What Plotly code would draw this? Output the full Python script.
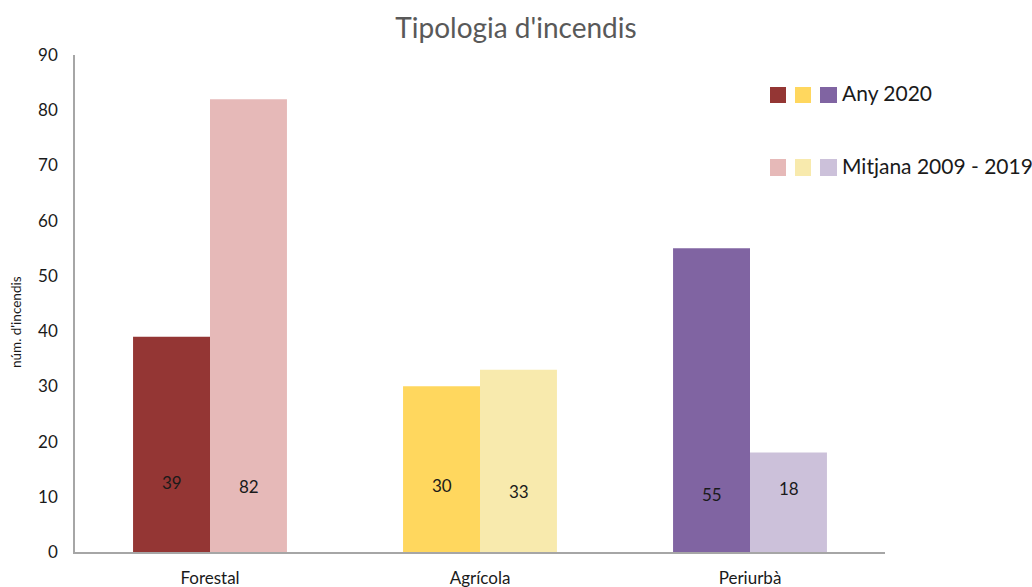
import plotly.graph_objects as go

categories = ["Forestal", "Agrícola", "Periurbà"]
any_2020 = [39, 30, 55]
mitjana = [82, 33, 18]
colors_2020 = ["#943634", "#FFD75E", "#8064A2"]
colors_mitjana = ["#E6B9B8", "#F8EAAD", "#CCC1DA"]
y_ticks = [0, 10, 20, 30, 40, 50, 60, 70, 80, 90]

FONT = "Lato, Liberation Sans, sans-serif"

W, H = 1032, 587
L, R, T, B = 75, 147, 55, 35
pw, ph = W - L - R, H - T - B
def px(x):
    return (x - L) / pw
def py(y):
    return (H - B - y) / ph

fig = go.Figure()
fig.add_trace(go.Bar(x=categories, y=any_2020, marker=dict(color=colors_2020, line=dict(width=0)),
                     name="Any 2020", showlegend=False, hoverinfo="y"))
fig.add_trace(go.Bar(x=categories, y=mitjana, marker=dict(color=colors_mitjana, line=dict(width=0)),
                     name="Mitjana 2009 - 2019", showlegend=False, hoverinfo="y"))

annotations = []
label_y_2020 = [12.5, 12, 10.5]
label_y_mit = [11.8, 11, 11.5]
for i, c in enumerate(categories):
    annotations.append(dict(x=c, y=label_y_2020[i], xref="x", yref="y", xshift=-38.5, text=str(any_2020[i]),
                            showarrow=False, font=dict(size=17, color="#1a1a1a", family=FONT)))
    annotations.append(dict(x=c, y=label_y_mit[i], xref="x", yref="y", xshift=38.5, text=str(mitjana[i]),
                            showarrow=False, font=dict(size=17, color="#1a1a1a", family=FONT)))

annotations.append(dict(x=px(840), y=py(93), xref="paper", yref="paper", text="Any 2020", showarrow=False,
                        xanchor="left", yanchor="middle", font=dict(size=21, color="#1a1a1a", family=FONT)))
annotations.append(dict(x=px(840), y=py(165), xref="paper", yref="paper", text="Mitjana 2009 - 2019", showarrow=False,
                        xanchor="left", yanchor="middle", font=dict(size=21, color="#1a1a1a", family=FONT)))
annotations.append(dict(x=px(16), y=py(322), xref="paper", yref="paper", text="núm. d'incendis", showarrow=False,
                        textangle=-90, xanchor="center", yanchor="middle",
                        font=dict(size=13.5, color="#1a1a1a", family=FONT)))

shapes = []
sq_x = [(770, 786), (795, 811), (820, 837)]
for j, (x0, x1) in enumerate(sq_x):
    shapes.append(dict(type="rect", xref="paper", yref="paper", x0=px(x0), x1=px(x1), y0=py(103), y1=py(87),
                       fillcolor=colors_2020[j], line=dict(width=0)))
    shapes.append(dict(type="rect", xref="paper", yref="paper", x0=px(x0), x1=px(x1), y0=py(176), y1=py(159),
                       fillcolor=colors_mitjana[j], line=dict(width=0)))

fig.update_layout(
    width=W, height=H,
    margin=dict(l=L, r=R, t=T, b=B, autoexpand=False),
    paper_bgcolor="white", plot_bgcolor="white",
    barmode="group", bargap=0.43, bargroupgap=0,
    title=dict(text="Tipologia d'incendis", x=0.5, xanchor="center", y=1 - 28 / H, yanchor="middle",
               font=dict(size=28, color="#595959", family=FONT)),
    font=dict(family=FONT, color="#1a1a1a"),
    xaxis=dict(showline=True, linecolor="#A6A6A6", linewidth=1.5, showgrid=False, ticks="",
               automargin=False, ticklabelstandoff=10,
               tickfont=dict(size=17, color="#1a1a1a", family=FONT)),
    yaxis=dict(range=[0, 90], tickvals=y_ticks, showline=True, linecolor="#A6A6A6", linewidth=1.5,
               showgrid=False, zeroline=False, ticks="", ticklen=0, automargin=False,
               ticklabelstandoff=12,
               tickfont=dict(size=17, color="#1a1a1a", family=FONT)),
    showlegend=False,
    annotations=annotations,
    shapes=shapes,
)

fig.write_html("out.html", config={"displayModeBar": False},
               post_script="document.body.style.margin='0';document.body.style.padding='0';")
